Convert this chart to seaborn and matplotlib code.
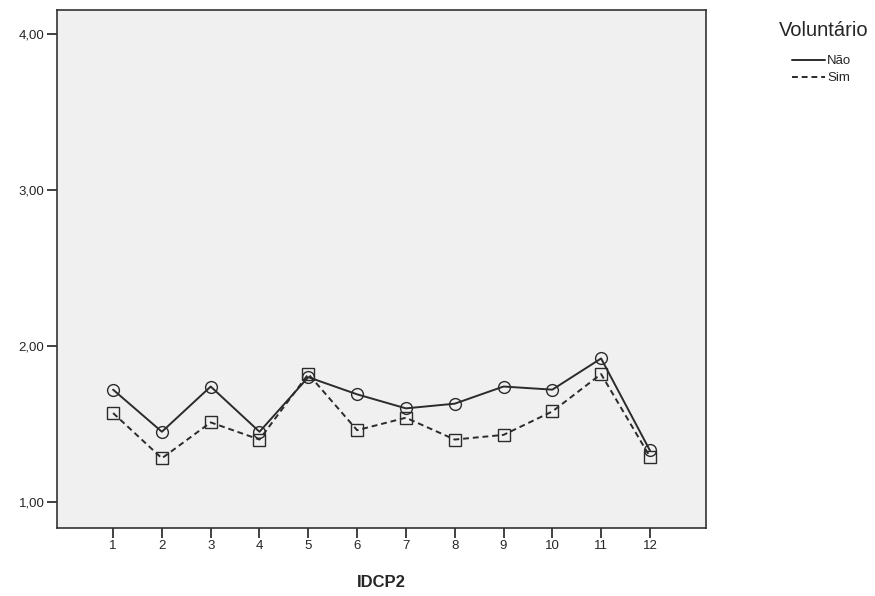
import pandas as pd
import seaborn as sns
import matplotlib.pyplot as plt
from matplotlib.lines import Line2D
from matplotlib.ticker import FuncFormatter

sns.set_style("white")
plt.rcParams['font.family'] = ['Liberation Sans', 'DejaVu Sans']

# Data
idcp2 = list(range(1, 13))
nao = [1.72, 1.45, 1.74, 1.45, 1.80, 1.69, 1.60, 1.63, 1.74, 1.72, 1.92, 1.33]
sim = [1.57, 1.28, 1.51, 1.40, 1.82, 1.46, 1.54, 1.40, 1.43, 1.58, 1.82, 1.29]

df = pd.concat([
    pd.DataFrame({'IDCP2': idcp2, 'media': nao, 'Voluntário': 'Não'}),
    pd.DataFrame({'IDCP2': idcp2, 'media': sim, 'Voluntário': 'Sim'}),
])

fig = plt.figure(figsize=(8.75, 5.96), dpi=100)
ax = fig.add_axes([0.0651, 0.1141, 0.7418, 0.8691])
ax.set_facecolor('#f0f0f0')

line_col = '#2b2b2b'
sns.lineplot(data=df, x='IDCP2', y='media', style='Voluntário',
             markers={'Não': 'o', 'Sim': 's'},
             dashes={'Não': '', 'Sim': (3, 2)},
             color=line_col, linewidth=1.4, markersize=8.5,
             markerfacecolor='none', markeredgecolor=line_col, markeredgewidth=1.0,
             legend=False, ax=ax)

ax.set_xlim(-0.15, 13.15)
ax.set_ylim(0.833, 4.154)
ax.set_xticks(idcp2)
ax.set_yticks([1, 2, 3, 4])
ax.yaxis.set_major_formatter(FuncFormatter(lambda v, p: f"{v:.2f}".replace('.', ',')))
ax.tick_params(axis='both', labelsize=9.5, length=7, width=1.3, color='#333333',
               direction='out', pad=2, bottom=True, left=True)
for s in ax.spines.values():
    s.set_color('#333333')
    s.set_linewidth(1.2)

ax.set_xlabel('IDCP2', fontsize=12, fontweight='bold', labelpad=16)
ax.set_ylabel('')

# Legend: title drawn separately so the gap matches the reference
fig.text(824 / 875, 1 - 30 / 596, 'Voluntário', ha='center', va='center', fontsize=14.5)
handles = [Line2D([0], [0], color=line_col, lw=1.4, ls='-'),
           Line2D([0], [0], color=line_col, lw=1.4, ls=(0, (3, 2)))]
fig.legend(handles, ['Não', 'Sim'], loc='upper left',
           bbox_to_anchor=(792 / 875, 1 - 55 / 596), frameon=False, fontsize=9.5,
           handlelength=2.5, handletextpad=0.15, labelspacing=0.38,
           borderpad=0, borderaxespad=0)

fig.savefig('out.png', dpi=100)
